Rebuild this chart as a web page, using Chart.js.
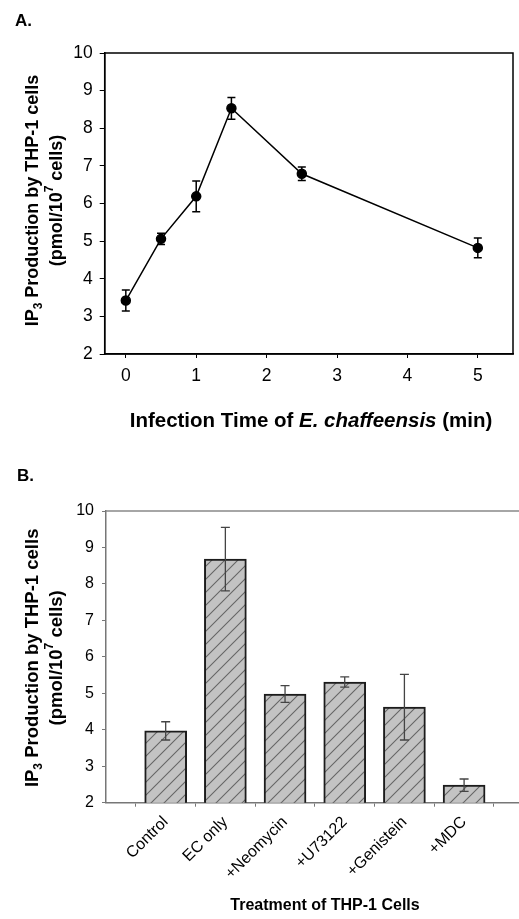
<!DOCTYPE html>
<html><head><meta charset="utf-8">
<script src="https://cdn.jsdelivr.net/npm/chart.js@4/dist/chart.umd.min.js"></script>
<style>
html,body{margin:0;padding:0;background:#fff;overflow:hidden}
#wrap{position:relative;width:519px;height:919px}
canvas{position:absolute;left:0}
</style></head>
<body>
<div id="wrap">
<canvas id="ca" width="519" height="450" style="top:0"></canvas>
<canvas id="cb" width="519" height="459" style="top:460px"></canvas>
</div>
<script>
// ---- Panel A data ----
const timesA = [0, 0.5, 1, 1.5, 2.5, 5];
const ipA = [3.42, 5.06, 6.19, 8.53, 6.79, 4.82];
const errA = [0.28, 0.15, 0.41, 0.29, 0.18, 0.26];
const xTicksA = [0, 1, 2, 3, 4, 5];
// ---- Panel B data ----
const treatments = ['Control', 'EC only', '+Neomycin', '+U73122', '+Genistein', '+MDC'];
const ipB = [3.97, 8.68, 4.98, 5.31, 4.62, 2.48];
const errB = [0.25, 0.87, 0.23, 0.14, 0.90, 0.17];
const yTicks = [2, 3, 4, 5, 6, 7, 8, 9, 10];

const FONT = "'Liberation Sans', Arial, Helvetica, sans-serif";
Chart.defaults.font.family = FONT;
Chart.defaults.color = '#000';

function drawRich(ctx, parts, cx, cy) {
  let total = 0;
  parts.forEach(p => { ctx.font = p.font; p.w = ctx.measureText(p.text).width; total += p.w; });
  let x = cx - total / 2;
  ctx.textBaseline = 'middle';
  ctx.textAlign = 'left';
  parts.forEach(p => { ctx.font = p.font; ctx.fillText(p.text, x, cy + (p.dy || 0)); x += p.w; });
}

function drawYTitle(ctx, cy, size) {
  const big = 'bold ' + size + 'px ' + FONT;
  const small = 'bold ' + Math.round(size * 0.67) + 'px ' + FONT;
  ctx.save();
  ctx.fillStyle = '#000';
  ctx.translate(33, cy);
  ctx.rotate(-Math.PI / 2);
  drawRich(ctx, [{text: 'IP', font: big}, {text: '3', font: small, dy: 6}, {text: ' Production by THP-1 cells', font: big}], 0, 0);
  ctx.restore();
  ctx.save();
  ctx.fillStyle = '#000';
  ctx.translate(57, cy);
  ctx.rotate(-Math.PI / 2);
  drawRich(ctx, [{text: '(pmol/10', font: big}, {text: '7', font: small, dy: -7}, {text: ' cells)', font: big}], 0, 0);
  ctx.restore();
}

// hatch pattern
function makePattern() {
  const s = 13;
  const c = document.createElement('canvas');
  c.width = s; c.height = s;
  const g = c.getContext('2d');
  g.fillStyle = '#c3c3c3';
  g.fillRect(0, 0, s, s);
  g.strokeStyle = '#666';
  g.lineWidth = 1.1;
  g.beginPath();
  g.moveTo(-1, s + 1); g.lineTo(s + 1, -1);
  g.moveTo(-2, 2); g.lineTo(2, -2);
  g.moveTo(s - 2, s + 2); g.lineTo(s + 2, s - 2);
  g.stroke();
  return document.getElementById('cb').getContext('2d').createPattern(c, 'repeat');
}

// ---- Chart A ----
const pluginA = {
  id: 'pA',
  beforeDatasetsDraw(chart) {
    const ctx = chart.ctx, xs = chart.scales.x, ys = chart.scales.y;
    ctx.save();
    ctx.strokeStyle = '#000';
    ctx.lineWidth = 1.5;
    timesA.forEach((t, i) => {
      const x = xs.getPixelForValue(t);
      const y1 = ys.getPixelForValue(ipA[i] + errA[i]);
      const y2 = ys.getPixelForValue(ipA[i] - errA[i]);
      ctx.beginPath();
      ctx.moveTo(x, y1); ctx.lineTo(x, y2);
      ctx.moveTo(x - 4, y1); ctx.lineTo(x + 4, y1);
      ctx.moveTo(x - 4, y2); ctx.lineTo(x + 4, y2);
      ctx.stroke();
    });
    ctx.restore();
  },
  afterDraw(chart) {
    const ctx = chart.ctx, a = chart.chartArea;
    ctx.save();
    ctx.strokeStyle = '#000';
    ctx.lineWidth = 1.5;
    ctx.strokeRect(a.left, a.top, a.right - a.left, a.bottom - a.top);
    ctx.fillStyle = '#000';
    ctx.font = 'bold 17px ' + FONT;
    ctx.textAlign = 'left'; ctx.textBaseline = 'middle';
    ctx.fillText('A.', 15, 21);
    drawYTitle(ctx, (a.top + a.bottom) / 2 - 3, 18);
    ctx.fillStyle = '#000';
    drawRich(ctx, [{text: 'Infection Time of ', font: 'bold 20.5px ' + FONT}, {text: 'E. chaffeensis', font: 'italic bold 20.5px ' + FONT}, {text: ' (min)', font: 'bold 20.5px ' + FONT}], 311, 421);
    ctx.restore();
  }
};

new Chart(document.getElementById('ca'), {
  type: 'scatter',
  data: {
    datasets: [{
      data: timesA.map((t, i) => ({x: t, y: ipA[i]})),
      showLine: true,
      borderColor: '#000',
      borderWidth: 1.5,
      pointRadius: 4.5,
      pointBackgroundColor: '#000',
      pointBorderColor: '#000'
    }]
  },
  options: {
    responsive: false,
    animation: false,
    layout: {padding: {top: 53, right: 3, left: 0, bottom: 0}},
    plugins: {legend: {display: false}, tooltip: {enabled: false}},
    scales: {
      x: {
        type: 'linear', min: -0.3, max: 5.5,
        afterBuildTicks: s => { s.ticks = xTicksA.map(v => ({value: v})); },
        afterFit: s => { s.height = 96; },
        grid: {drawOnChartArea: false, drawTicks: true, tickLength: 4, color: '#000'},
        border: {color: '#000', width: 1.5},
        ticks: {color: '#000', font: {size: 17.5}, padding: 8, maxRotation: 0}
      },
      y: {
        min: 2, max: 10,
        afterBuildTicks: s => { s.ticks = yTicks.map(v => ({value: v})); },
        afterFit: s => { s.width = 104.7; },
        grid: {drawOnChartArea: false, drawTicks: true, tickLength: 5, color: '#000'},
        border: {color: '#000', width: 1.5},
        ticks: {color: '#000', font: {size: 17.5}, padding: 7}
      }
    }
  },
  plugins: [pluginA]
});

// ---- Chart B ----
const pluginB = {
  id: 'pB',
  afterDatasetsDraw(chart) {
    const ctx = chart.ctx, xs = chart.scales.x, ys = chart.scales.y;
    ctx.save();
    ctx.strokeStyle = '#444';
    ctx.lineWidth = 1.3;
    treatments.forEach((t, i) => {
      const x = xs.getPixelForValue(i + 1);
      const y1 = ys.getPixelForValue(ipB[i] + errB[i]);
      const y2 = ys.getPixelForValue(ipB[i] - errB[i]);
      ctx.beginPath();
      ctx.moveTo(x, y1); ctx.lineTo(x, y2);
      ctx.moveTo(x - 4.5, y1); ctx.lineTo(x + 4.5, y1);
      ctx.moveTo(x - 4.5, y2); ctx.lineTo(x + 4.5, y2);
      ctx.stroke();
    });
    ctx.restore();
  },
  afterDraw(chart) {
    const ctx = chart.ctx, a = chart.chartArea;
    ctx.save();
    ctx.strokeStyle = '#888';
    ctx.lineWidth = 1.5;
    ctx.beginPath();
    ctx.moveTo(a.left, a.top); ctx.lineTo(a.right + 2, a.top);
    ctx.stroke();
    ctx.fillStyle = '#000';
    ctx.font = 'bold 17px ' + FONT;
    ctx.textAlign = 'left'; ctx.textBaseline = 'middle';
    ctx.fillText('B.', 17, 16);
    drawYTitle(ctx, (a.top + a.bottom) / 2 + 1, 18.5);
    ctx.fillStyle = '#000';
    drawRich(ctx, [{text: 'Treatment of THP-1 Cells', font: 'bold 16px ' + FONT}], 325, 446);
    ctx.restore();
  }
};

new Chart(document.getElementById('cb'), {
  type: 'bar',
  data: {
    datasets: [{
      data: treatments.map((t, i) => ({x: i + 1, y: ipB[i]})),
      backgroundColor: makePattern(),
      borderColor: '#1c1c1c',
      borderWidth: 2,
      barThickness: 42
    }]
  },
  options: {
    responsive: false,
    animation: false,
    layout: {padding: {top: 51, right: 0, left: 0, bottom: 0}},
    plugins: {legend: {display: false}, tooltip: {enabled: false}},
    scales: {
      x: {
        type: 'linear', min: 0, max: 6.92, offset: false,
        afterBuildTicks: s => { s.ticks = treatments.map((_, i) => ({value: i + 1})); },
        afterFit: s => { s.height = 116.3; },
        grid: {drawOnChartArea: false, drawTicks: true, tickLength: 4, color: '#777'},
        border: {color: '#777', width: 1.5},
        ticks: {color: '#000', font: {size: 16}, padding: 6, minRotation: 45, maxRotation: 45, autoSkip: false,
          callback: v => treatments[v - 1]}
      },
      y: {
        min: 2, max: 10,
        afterBuildTicks: s => { s.ticks = yTicks.map(v => ({value: v})); },
        afterFit: s => { s.width = 106; },
        grid: {drawOnChartArea: false, drawTicks: true, tickLength: 4, color: '#777'},
        border: {color: '#777', width: 1.5},
        ticks: {color: '#000', font: {size: 16}, padding: 8}
      }
    }
  },
  plugins: [pluginB]
});
</script>
</body></html>
